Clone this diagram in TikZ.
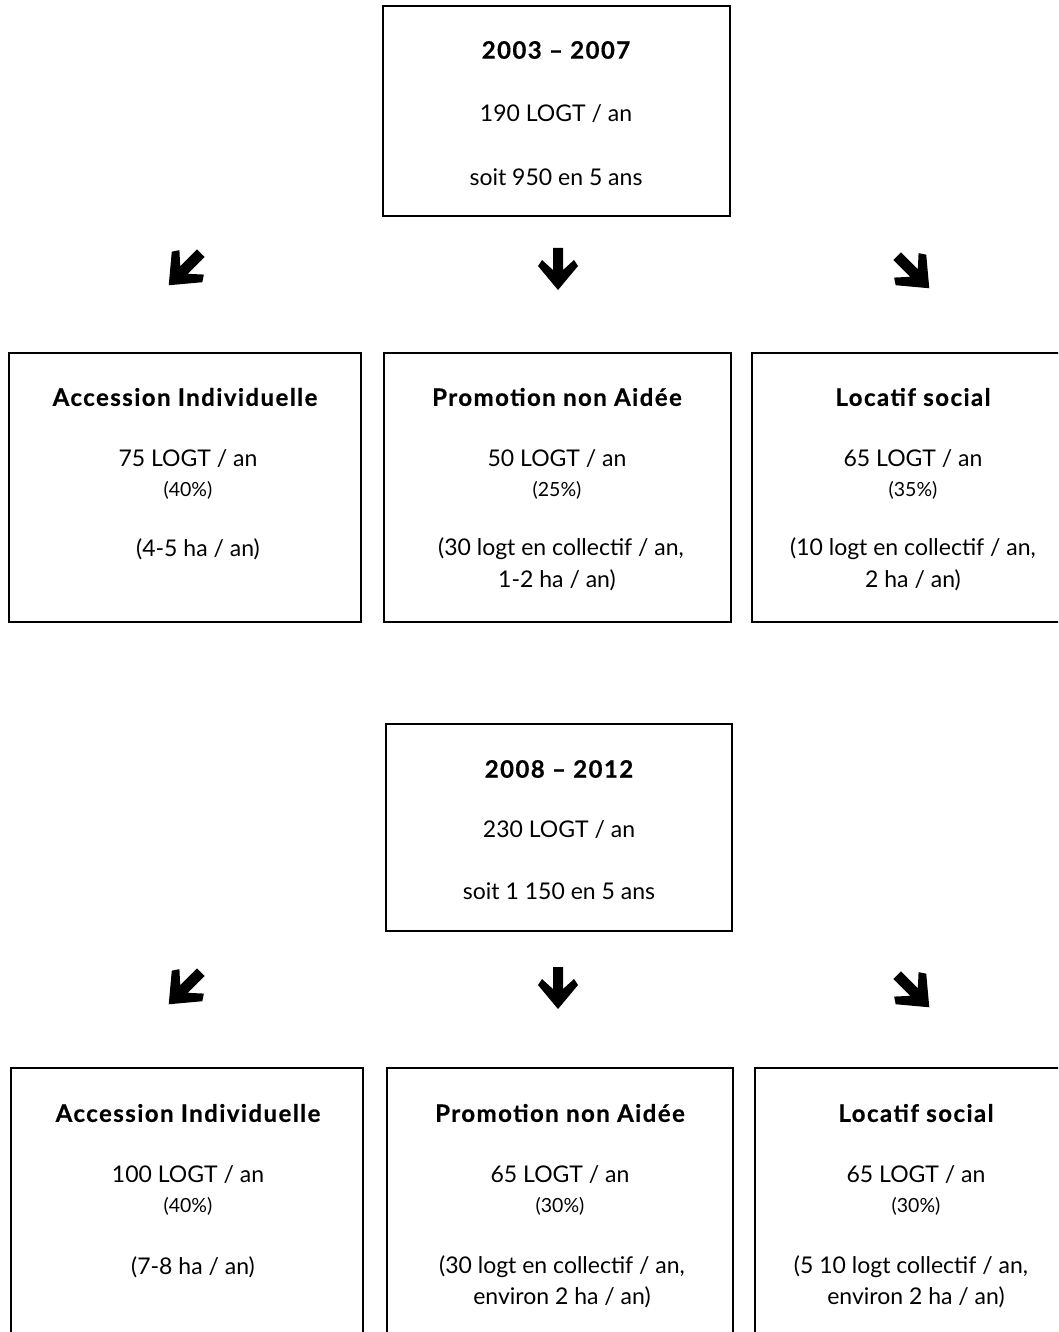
\documentclass[tikz,border=0pt]{standalone}
\usepackage{fontspec}
\setmainfont{Lato}
\begin{document}
\begin{tikzpicture}[x=1pt,y=-1pt,
  box/.style={draw=black, line width=1.6pt, rectangle, inner sep=0pt},
  txt/.style={inner sep=0pt, anchor=center, font=\fontsize{23}{27}\selectfont},
  small/.style={inner sep=0pt, anchor=center, font=\fontsize{19.5}{23}\selectfont},
  ttl/.style={inner sep=0pt, anchor=center, font=\fontsize{24}{28}\selectfont\bfseries\addfontfeatures{LetterSpace=6,FakeBold=0.6}},
  arr/.style={fill=black, draw=none}]
\useasboundingbox (0,0) rectangle (1058,1332);
\begin{scope}
\clip (0,0) rectangle (1058,1332);
% ---- boxes ----
\node[box, minimum width=347pt, minimum height=210pt] (p1) at (556.5,111) {};
\node[box, minimum width=352pt, minimum height=269pt] (a1) at (185,487.5) {};
\node[box, minimum width=347pt, minimum height=269pt] (b1) at (557.5,487.5) {};
\node[box, minimum width=320pt, minimum height=269pt] (c1) at (912,487.5) {};
\node[box, minimum width=346pt, minimum height=207pt] (p2) at (559,827.5) {};
\node[box, minimum width=352pt, minimum height=280pt] (a2) at (187,1208) {};
\node[box, minimum width=346pt, minimum height=280pt] (b2) at (560,1208) {};
\node[box, minimum width=320pt, minimum height=280pt] (c2) at (915,1208) {};
\end{scope}
% ---- texts, period 1 ----
\node[ttl] (p1t) at (556,50) {2003 -- 2007};
\node[txt] (p1a) at (556,114) {190 LOGT / an};
\node[txt] (p1b) at (556,177) {soit 950 en 5 ans};
\node[ttl] (a1t) at (185,397) {Accession Individuelle};
\node[txt] (a1a) at (188,459) {75 LOGT / an};
\node[small] (a1b) at (188,490) {(40\%)};
\node[txt] (a1c) at (198,549) {(4-5 ha / an)};
\node[ttl] (b1t) at (557,397) {Promotion non Aidée};
\node[txt] (b1a) at (557,459) {50 LOGT / an};
\node[small] (b1b) at (557,490) {(25\%)};
\node[txt] (b1c) at (561,549) {(30 logt en collectif / an,};
\node[txt] (b1d) at (557,580) {1-2 ha / an)};
\node[ttl] (c1t) at (913,397) {Locatif social};
\node[txt] (c1a) at (913,459) {65 LOGT / an};
\node[small] (c1b) at (913,490) {(35\%)};
\node[txt] (c1c) at (913,549) {(10 logt en collectif / an,};
\node[txt] (c1d) at (913,580) {2 ha / an)};
% ---- texts, period 2 ----
\node[ttl] (p2t) at (559,769) {2008 -- 2012};
\node[txt] (p2a) at (559,830) {230 LOGT / an};
\node[txt] (p2b) at (559,891) {soit 1 150 en 5 ans};
\node[ttl] (a2t) at (188,1113) {Accession Individuelle};
\node[txt] (a2a) at (188,1175) {100 LOGT / an};
\node[small] (a2b) at (188,1206) {(40\%)};
\node[txt] (a2c) at (193,1267) {(7-8 ha / an)};
\node[ttl] (b2t) at (560,1113) {Promotion non Aidée};
\node[txt] (b2a) at (560,1175) {65 LOGT / an};
\node[small] (b2b) at (560,1206) {(30\%)};
\node[txt] (b2c) at (562,1267) {(30 logt en collectif / an,};
\node[txt] (b2d) at (562,1297) {environ 2 ha / an)};
\node[ttl] (c2t) at (916,1113) {Locatif social};
\node[txt] (c2a) at (916,1175) {65 LOGT / an};
\node[small] (c2b) at (916,1206) {(30\%)};
\node[txt] (c2c) at (911,1267) {(5 10 logt collectif / an,};
\node[txt] (c2d) at (916,1297) {environ 2 ha / an)};
% ---- arrow symbols ----
\def\arrowshape{(-5,-22) -- (5,-22) -- (5,0) -- (16,-10) -- (20,-4) -- (0,20) -- (-20,-4) -- (-16,-10) -- (-5,0) -- cycle}
\foreach \y in {270,989}{
  \fill[arr, shift={(184,\y)}, rotate=-45, scale=1.08] \arrowshape;
  \fill[arr, shift={(558,\y)}] \arrowshape;
  \fill[arr, shift={(914,\y+3)}, rotate=45, scale=1.08] \arrowshape;
}
\end{tikzpicture}
\end{document}
